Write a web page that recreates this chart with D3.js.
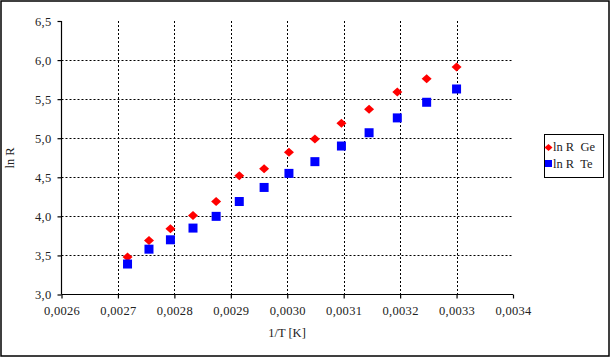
<!DOCTYPE html>
<html>
<head>
<meta charset="utf-8">
<script src="https://cdn.jsdelivr.net/npm/d3@7"></script>
<style>
  body { margin: 0; background: #fff; }
  svg text { font-family: "Liberation Serif", "DejaVu Serif", serif; fill: #222; }
</style>
</head>
<body>
<div id="chart"></div>
<script>
// 1/T values [1/K]
var invT = [0.002717, 0.002755, 0.002793, 0.002833, 0.002874, 0.002915, 0.002959,
            0.003003, 0.003049, 0.003096, 0.003145, 0.003195, 0.003247, 0.003300];
// ln R for germanium
var lnRGe = [3.48, 3.69, 3.84, 4.01, 4.19, 4.52, 4.61, 4.82, 4.99, 5.19, 5.37, 5.59, 5.76, 5.91];
// ln R for tellurium
var lnRTe = [3.39, 3.58, 3.70, 3.85, 4.00, 4.19, 4.37, 4.55, 4.70, 4.90, 5.07, 5.26, 5.46, 5.63];

var xTicks = [0.0026, 0.0027, 0.0028, 0.0029, 0.0030, 0.0031, 0.0032, 0.0033, 0.0034];
var yTicks = [3.0, 3.5, 4.0, 4.5, 5.0, 5.5, 6.0, 6.5];
var seriesNames = ["ln R  Ge", "ln R  Te"];

var width = 610, height = 357;
var serif = "'Liberation Serif', 'DejaVu Serif', serif";

var svg = d3.select("#chart").append("svg")
    .attr("width", width)
    .attr("height", height);

// outer frame
svg.append("rect")
    .attr("x", 1).attr("y", 1)
    .attr("width", width - 2).attr("height", height - 2)
    .attr("fill", "#fff")
    .attr("stroke", "#000")
    .attr("stroke-width", 1.5);

var x = d3.scaleLinear().domain([0.0026, 0.0034]).range([61.5, 513]);
var y = d3.scaleLinear().domain([3.0, 6.5]).range([294.5, 21]);

var fmtX = function(d) { return d3.format(".4f")(d).replace(".", ","); };
var fmtY = function(d) { return d3.format(".1f")(d).replace(".", ","); };

// grid lines
svg.append("g").selectAll("line")
    .data(yTicks.filter(d => d > 3.0 && d < 6.5))
    .enter().append("line")
    .attr("x1", x(0.0026)).attr("x2", x(0.0034))
    .attr("y1", d => Math.round(y(d)) + 0.5).attr("y2", d => Math.round(y(d)) + 0.5)
    .attr("stroke", "#000").attr("stroke-dasharray", "2,2");

svg.append("g").selectAll("line")
    .data(xTicks.filter(d => d > 0.00261 && d < 0.00339))
    .enter().append("line")
    .attr("y1", y(6.5)).attr("y2", y(3.0))
    .attr("x1", d => Math.round(x(d)) + 0.5).attr("x2", d => Math.round(x(d)) + 0.5)
    .attr("stroke", "#000").attr("stroke-dasharray", "2,2");

// axes
var xAxis = d3.axisBottom(x).tickValues(xTicks).tickFormat(fmtX).tickSizeInner(4).tickSizeOuter(4).tickPadding(8);
var yAxis = d3.axisLeft(y).tickValues(yTicks).tickFormat(fmtY).tickSizeInner(4).tickSizeOuter(4).tickPadding(6);

var gx = svg.append("g")
    .attr("transform", "translate(0," + y(3.0) + ")")
    .call(xAxis);
var gy = svg.append("g")
    .attr("transform", "translate(" + x(0.0026) + ",0)")
    .call(yAxis);

[gx, gy].forEach(function(g) {
    g.attr("font-family", serif);
    g.selectAll("path, line").attr("stroke", "#000").attr("stroke-width", 1.2);
    g.selectAll("text").attr("font-size", "12.5px")
        .attr("letter-spacing", "0.3px")
        .attr("fill", "#222");
});
gy.select(".domain").attr("d", "M0," + y(6.5) + "V" + y(3.0));
gx.select(".domain").attr("d", "M" + x(0.0026) + ",0H" + x(0.0034));

// axis titles
svg.append("text")
    .attr("x", 287).attr("y", 337)
    .attr("text-anchor", "middle")
    .attr("font-family", serif)
    .attr("font-size", "12.5px")
    .text("1/T [K]");

svg.append("text")
    .attr("transform", "translate(14,158) rotate(-90)")
    .attr("text-anchor", "middle")
    .attr("font-family", serif)
    .attr("font-size", "12.5px")
    .text("ln R");

// data points
function diamondPath(w, h) {
    return "M0," + (-h / 2) + "L" + (w / 2) + ",0L0," + (h / 2) + "L" + (-w / 2) + ",0Z";
}

svg.append("g").selectAll("path")
    .data(invT.map((d, i) => [d, lnRGe[i]]))
    .enter().append("path")
    .attr("d", diamondPath(10, 9))
    .attr("transform", d => "translate(" + x(d[0]) + "," + y(d[1]) + ")")
    .attr("fill", "#ff0000");

var sq = 9;
svg.append("g").selectAll("rect")
    .data(invT.map((d, i) => [d, lnRTe[i]]))
    .enter().append("rect")
    .attr("x", d => x(d[0]) - sq / 2)
    .attr("y", d => y(d[1]) - sq / 2)
    .attr("width", sq).attr("height", sq)
    .attr("fill", "#0000ff");

// legend
var legend = svg.append("g");
legend.append("rect")
    .attr("x", 544.5).attr("y", 134.5)
    .attr("width", 59).attr("height", 43)
    .attr("fill", "#fff").attr("stroke", "#000");

legend.append("path")
    .attr("d", diamondPath(8, 7))
    .attr("transform", "translate(548.5,147.5)")
    .attr("fill", "#ff0000");
legend.append("rect")
    .attr("x", 545).attr("y", 160)
    .attr("width", 7).attr("height", 7)
    .attr("fill", "#0000ff");

legend.selectAll("text.lg")
    .data(seriesNames)
    .enter().append("text")
    .attr("class", "lg")
    .attr("x", 553)
    .attr("y", (d, i) => 151 + i * 17)
    .attr("font-family", serif)
    .attr("font-size", "12.5px")
    .style("white-space", "pre")
    .text(d => d);
</script>
</body>
</html>
